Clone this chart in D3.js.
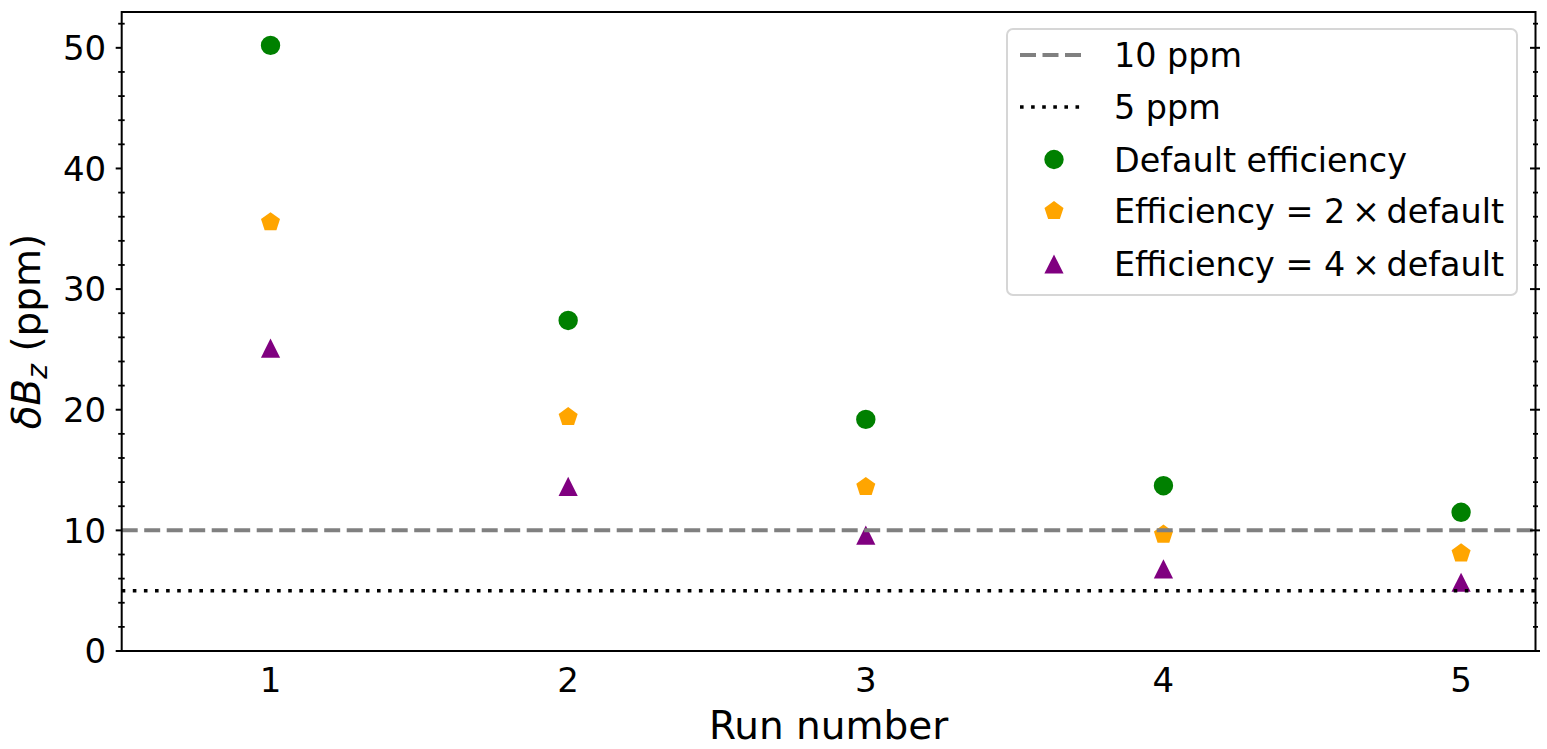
<html>
<head>
<meta http-equiv="Content-Type" content="text/html; charset=utf-8">
<title>Run number vs dBz</title>
<style type="text/css">
  body { margin: 0; background: #fff; }
  svg { font-family: "DejaVu Sans", sans-serif; }
  .tick-label { font-size: 34px; fill: #000; }
  .axis-label { font-size: 39px; fill: #000; }
  .legend-text { font-size: 33.4px; fill: #000; }
</style>
<script src="https://cdnjs.cloudflare.com/ajax/libs/d3/7.8.5/d3.min.js"></script>
</head>
<body>
<svg id="chart" width="1547" height="749"></svg>
<script type="text/javascript">

// data
var runs = [1, 2, 3, 4, 5];
var defaultEff = [50.2, 27.4, 19.2, 13.7, 11.5];
var eff2x = [35.55, 19.4, 13.6, 9.65, 8.1];
var eff4x = [25.1, 13.65, 9.6, 6.8, 5.7];
var refLevels = [10, 5];
var yTicks = [0, 10, 20, 30, 40, 50];
var yMinorTicks = [2, 4, 6, 8, 12, 14, 16, 18, 22, 24, 26, 28, 32, 34, 36, 38, 42, 44, 46, 48, 52];
var legendLabels = ["10 ppm", "5 ppm", "Default efficiency", "Efficiency = 2\u2009\u00d7\u2009default", "Efficiency = 4\u2009\u00d7\u2009default"];

var svg = d3.select("#chart"),
    margin = {top: 12, right: 11.5, bottom: 98, left: 121.7},
    width = +svg.attr("width") - margin.left - margin.right,
    height = +svg.attr("height") - margin.top - margin.bottom,
    g = svg.append("g").attr("transform", "translate(" + margin.left + "," + margin.top + ")");

var xScale = d3.scaleLinear().domain([0.5, 5.25]).range([0, width]);
var yScale = d3.scaleLinear().domain([0, 52.97]).range([height, 0]);

// marker shapes (matplotlib-ish sizes)
function circlePath(r) {
  return "M" + r + ",0A" + r + "," + r + " 0 1,1 " + (-r) + ",0A" + r + "," + r + " 0 1,1 " + r + ",0Z";
}
function pentagonPath(r) {
  var pts = d3.range(5).map(function(k) {
    var a = -Math.PI / 2 + k * 2 * Math.PI / 5;
    return [r * Math.cos(a), r * Math.sin(a)];
  });
  return "M" + pts.map(function(p) { return p.join(","); }).join("L") + "Z";
}
function trianglePath(h) {
  return "M0," + (-h) + "L" + (-h) + "," + h + "L" + h + "," + h + "Z";
}

var seriesList = [
  {values: defaultEff, color: "#008000", path: circlePath(9.7)},
  {values: eff2x, color: "#ffa500", path: pentagonPath(10)},
  {values: eff4x, color: "#800080", path: trianglePath(9.6)}
];

// scatter points
seriesList.forEach(function(s) {
  g.selectAll(null)
    .data(s.values)
    .enter()
    .append("path")
    .attr("d", s.path)
    .attr("fill", s.color)
    .attr("transform", function(d, i) {
      return "translate(" + xScale(runs[i]) + "," + yScale(d) + ")";
    });
});

// reference lines
var lineStyles = [
  {color: "#808080", width: 4, dash: "16,6.5"},
  {color: "#000000", width: 3.6, dash: "3.6,7.5"}
];
g.selectAll(".ref")
  .data(refLevels)
  .enter()
  .append("line")
  .attr("class", "ref")
  .attr("x1", 0)
  .attr("x2", width)
  .attr("y1", function(d) { return yScale(d); })
  .attr("y2", function(d) { return yScale(d); })
  .attr("stroke", function(d, i) { return lineStyles[i].color; })
  .attr("stroke-width", function(d, i) { return lineStyles[i].width; })
  .attr("stroke-dasharray", function(d, i) { return lineStyles[i].dash; });

// frame
g.append("rect")
  .attr("width", width)
  .attr("height", height)
  .attr("fill", "none")
  .attr("stroke", "#000")
  .attr("stroke-width", 2);

// left axis: major ticks outward, minor crossing
g.selectAll(".ytick")
  .data(yTicks)
  .enter()
  .append("line")
  .attr("x1", -6).attr("x2", 0)
  .attr("y1", function(d) { return yScale(d); })
  .attr("y2", function(d) { return yScale(d); })
  .attr("stroke", "#000").attr("stroke-width", 2);

g.selectAll(".yminor")
  .data(yMinorTicks)
  .enter()
  .append("line")
  .attr("x1", -3.5).attr("x2", 3)
  .attr("y1", function(d) { return yScale(d); })
  .attr("y2", function(d) { return yScale(d); })
  .attr("stroke", "#000").attr("stroke-width", 1.8);

// right axis: ticks crossing the spine
g.selectAll(".ytickR")
  .data(yTicks)
  .enter()
  .append("line")
  .attr("x1", width - 5.5).attr("x2", width + 4.5)
  .attr("y1", function(d) { return yScale(d); })
  .attr("y2", function(d) { return yScale(d); })
  .attr("stroke", "#000").attr("stroke-width", 2);

g.selectAll(".yminorR")
  .data(yMinorTicks)
  .enter()
  .append("line")
  .attr("x1", width - 2.5).attr("x2", width + 2.5)
  .attr("y1", function(d) { return yScale(d); })
  .attr("y2", function(d) { return yScale(d); })
  .attr("stroke", "#000").attr("stroke-width", 1.8);

// tick labels
g.selectAll(".ylab")
  .data(yTicks)
  .enter()
  .append("text")
  .attr("class", "tick-label")
  .attr("x", -15.5)
  .attr("y", function(d) { return yScale(d); })
  .attr("dy", "0.36em")
  .attr("text-anchor", "end")
  .text(function(d) { return d; });

g.selectAll(".xlab")
  .data(runs)
  .enter()
  .append("text")
  .attr("class", "tick-label")
  .attr("x", function(d) { return xScale(d); })
  .attr("y", height + 41)
  .attr("text-anchor", "middle")
  .text(function(d) { return d; });

// axis titles
svg.append("text")
  .attr("class", "axis-label")
  .attr("x", margin.left + width / 2)
  .attr("y", 739)
  .attr("text-anchor", "middle")
  .text("Run number");

var yl = svg.append("text")
  .attr("class", "axis-label")
  .attr("font-size", "40px")
  .attr("text-anchor", "middle")
  .attr("transform", "translate(40," + (margin.top + height / 2) + ") rotate(-90)");
yl.append("tspan").attr("font-style", "italic").text("\u03b4B");
yl.append("tspan").attr("font-style", "italic").attr("font-size", "28px").attr("dy", "7").text("z");
yl.append("tspan").attr("dy", "-7").text(" (ppm)");

// legend
var legend = svg.append("g").attr("transform", "translate(1007,29)");
legend.append("rect")
  .attr("width", 510)
  .attr("height", 266)
  .attr("rx", 6)
  .attr("fill", "#fff")
  .attr("fill-opacity", 0.8)
  .attr("stroke", "#d6d6d6")
  .attr("stroke-width", 2);

var rowY = [26, 78, 130.5, 182, 235];
var legendItems = legend.selectAll(".item")
  .data(legendLabels)
  .enter()
  .append("g")
  .attr("transform", function(d, i) { return "translate(0," + rowY[i] + ")"; });

legendItems.append("text")
  .attr("class", "legend-text")
  .attr("x", 107)
  .attr("dy", "0.36em")
  .text(function(d) { return d; });

legendItems.filter(function(d, i) { return i < 2; })
  .append("line")
  .attr("x1", 13).attr("x2", 74)
  .attr("stroke", function(d, i) { return lineStyles[i].color; })
  .attr("stroke-width", function(d, i) { return lineStyles[i].width; })
  .attr("stroke-dasharray", function(d, i) { return lineStyles[i].dash; });

legendItems.filter(function(d, i) { return i >= 2; })
  .append("path")
  .attr("transform", "translate(47,0)")
  .attr("d", function(d, i) { return seriesList[i].path; })
  .attr("fill", function(d, i) { return seriesList[i].color; });

</script>
</body>
</html>
